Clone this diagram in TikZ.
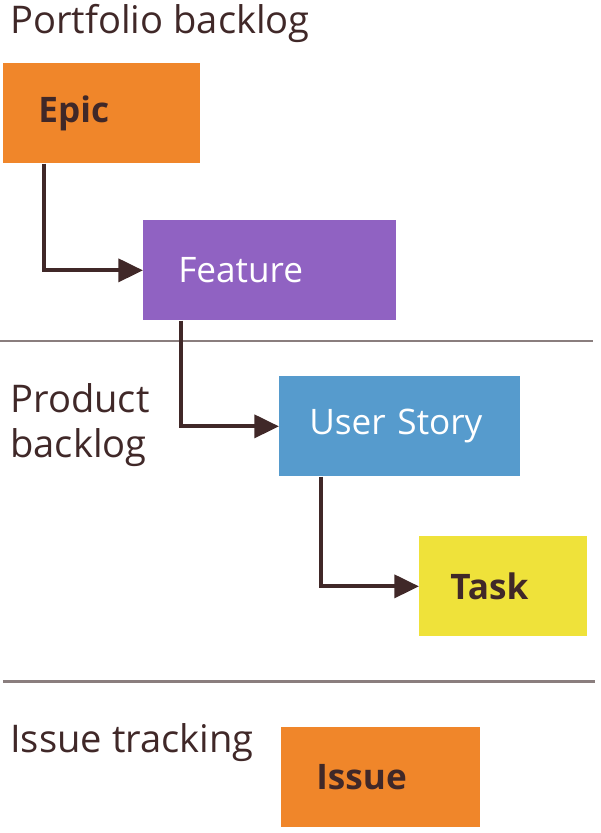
\documentclass[tikz,border=0pt]{standalone}
\usepackage{fontspec}
\setmainfont{Open Sans}
\usetikzlibrary{arrows.meta}
\usetikzlibrary{positioning}
\definecolor{castanho}{HTML}{402828}
\definecolor{linha}{HTML}{8A7E7E}
\definecolor{laranja}{HTML}{F0862A}
\definecolor{roxo}{HTML}{9062C2}
\definecolor{azul}{HTML}{569BCD}
\definecolor{amarelo}{HTML}{EFE23A}
\tikzset{
  caixa/.style={anchor=north west, align=left, text width=#1, inner xsep=0.7cm, inner ysep=0pt, minimum height=2cm, font=\fontsize{20}{24}\selectfont\bfseries, text=castanho},
  caixa/.default=2.5cm,
  rotulo/.style={anchor=base west, align=left, inner sep=0pt, font=\fontsize{21.7}{25.5}\selectfont, text=castanho},
  seta/.style={-{Triangle[length=14pt, width=13pt]}, line width=2.3pt, castanho},
  divisao/.style={line width=1.7pt, linha},
}
\begin{document}
\begin{tikzpicture}
  \useasboundingbox (0,0) rectangle (12,-16.66);
  % rotulos das faixas
  \node[rotulo] (portfolio) at (0.2,-0.68) {Portfolio backlog};
  \node[rotulo, anchor=west] (produto) at (0.2,-8.5) {Product\\backlog};
  \node[rotulo] (issues) at (0.2,-15.04) {Issue tracking};
  % divisoes
  \coordinate (d1a) at (0,-6.82);
  \coordinate (d1b) at (11.86,-6.82);
  \coordinate (d2a) at (0.06,-13.62);
  \coordinate (d2b) at (11.9,-13.62);
  \draw[divisao] (d1a) -- (d1b);
  \draw[divisao] (d2a) -- (d2b);
  % itens
  \node[caixa=2.54cm, fill=laranja] (epic) at (0.06,-1.26) {Epic};
  \node[caixa=3.66cm, fill=roxo, text=white, font=\fontsize{20}{24}\selectfont] (feature) at (2.86,-4.40) {Feature};
  \node[caixa=3.62cm, inner xsep=0.6cm, fill=azul, text=white, font=\fontsize{20}{24}\selectfont] (story) at (5.58,-7.52) {User Story};
  \node[caixa=2.12cm, fill=amarelo, inner xsep=0.62cm] (task) at (8.38,-10.72) {Task};
  \node[caixa=2.58cm, fill=laranja] (issue) at (5.62,-14.54) {Issue};
  % ligacoes
  \draw[seta] ([xshift=0.82cm]epic.south west) |- (feature.west);
  \draw[seta] ([xshift=0.76cm]feature.south west) |- (story.west);
  \draw[seta] ([xshift=0.84cm]story.south west) |- (task.west);
\end{tikzpicture}
\end{document}
